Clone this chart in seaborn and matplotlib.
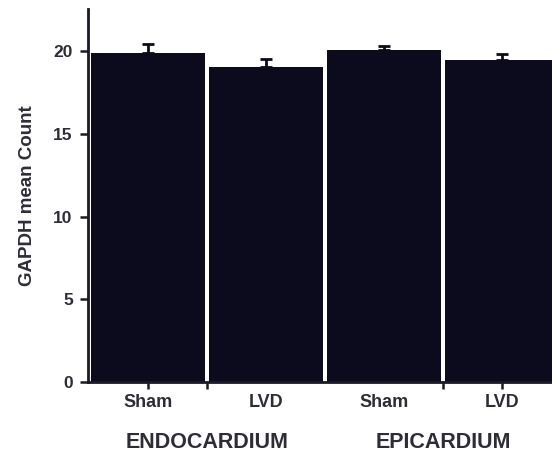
import matplotlib
matplotlib.use("Agg")
import matplotlib.pyplot as plt
import seaborn as sns
import pandas as pd
import numpy as np

# GAPDH counts per condition, grouped by tissue layer
conditions = ["Sham", "LVD", "Sham", "LVD"]
groups = ["ENDOCARDIUM", "EPICARDIUM"]
means = [19.9, 19.05, 20.1, 19.45]
sem = [0.55, 0.5, 0.22, 0.36]
yticks = [0, 5, 10, 15, 20]

bar_color = "#0b0b1d"
text_color = "#2d2d38"

sns.set_theme(style="white")
plt.rcParams["font.family"] = ["Liberation Sans", "DejaVu Sans"]

df = pd.DataFrame({"pos": [0, 1, 2, 3], "mean": means})

fig = plt.figure(figsize=(5.52, 4.53), dpi=100)
ax = fig.add_axes([0.1594, 0.1567, 0.857, 0.8234])

sns.barplot(data=df, x="pos", y="mean", color=bar_color, saturation=1,
            width=0.965, errorbar=None, edgecolor="none", ax=ax, native_scale=True)

# upper-only error bars with caps
ax.errorbar(df["pos"], means, yerr=[np.zeros(len(sem)), sem], fmt="none",
            ecolor=bar_color, elinewidth=2, capsize=4.5, capthick=2)

ax.set_xlim(-0.51, 3.5)
ax.set_ylim(0, 22.55)

ax.set_yticks(yticks)
ax.set_yticklabels([str(t) for t in yticks], fontsize=12.5, fontweight="bold", color=text_color)

# condition labels under bars, ticks at chosen positions
ax.set_xticks([0, 0.5, 2.5, 3])
ax.set_xticklabels([])
for i, lab in enumerate(conditions):
    ax.text(i, -0.067, lab, transform=ax.get_xaxis_transform(), ha="center", va="baseline",
            fontsize=13, fontweight="bold", color=text_color)
for gx, g in zip([0.5, 2.5], groups):
    ax.text(gx, -0.176, g, transform=ax.get_xaxis_transform(), ha="center", va="baseline",
            fontsize=15.5, fontweight="bold", color=text_color)

ax.set_xlabel("")
ax.set_ylabel("GAPDH mean Count", fontsize=13.5, fontweight="bold", color=text_color, labelpad=12.5)

for side in ["top", "right"]:
    ax.spines[side].set_visible(False)
for side in ["left", "bottom"]:
    ax.spines[side].set_linewidth(2)
    ax.spines[side].set_color("#1a1a28")

ax.tick_params(axis="y", direction="out", length=6, width=1.8, color="#1a1a28", pad=5, left=True)
ax.tick_params(axis="x", direction="out", length=5, width=1.8, color="#1a1a28", bottom=True)

fig.savefig("out.png", dpi=100)
